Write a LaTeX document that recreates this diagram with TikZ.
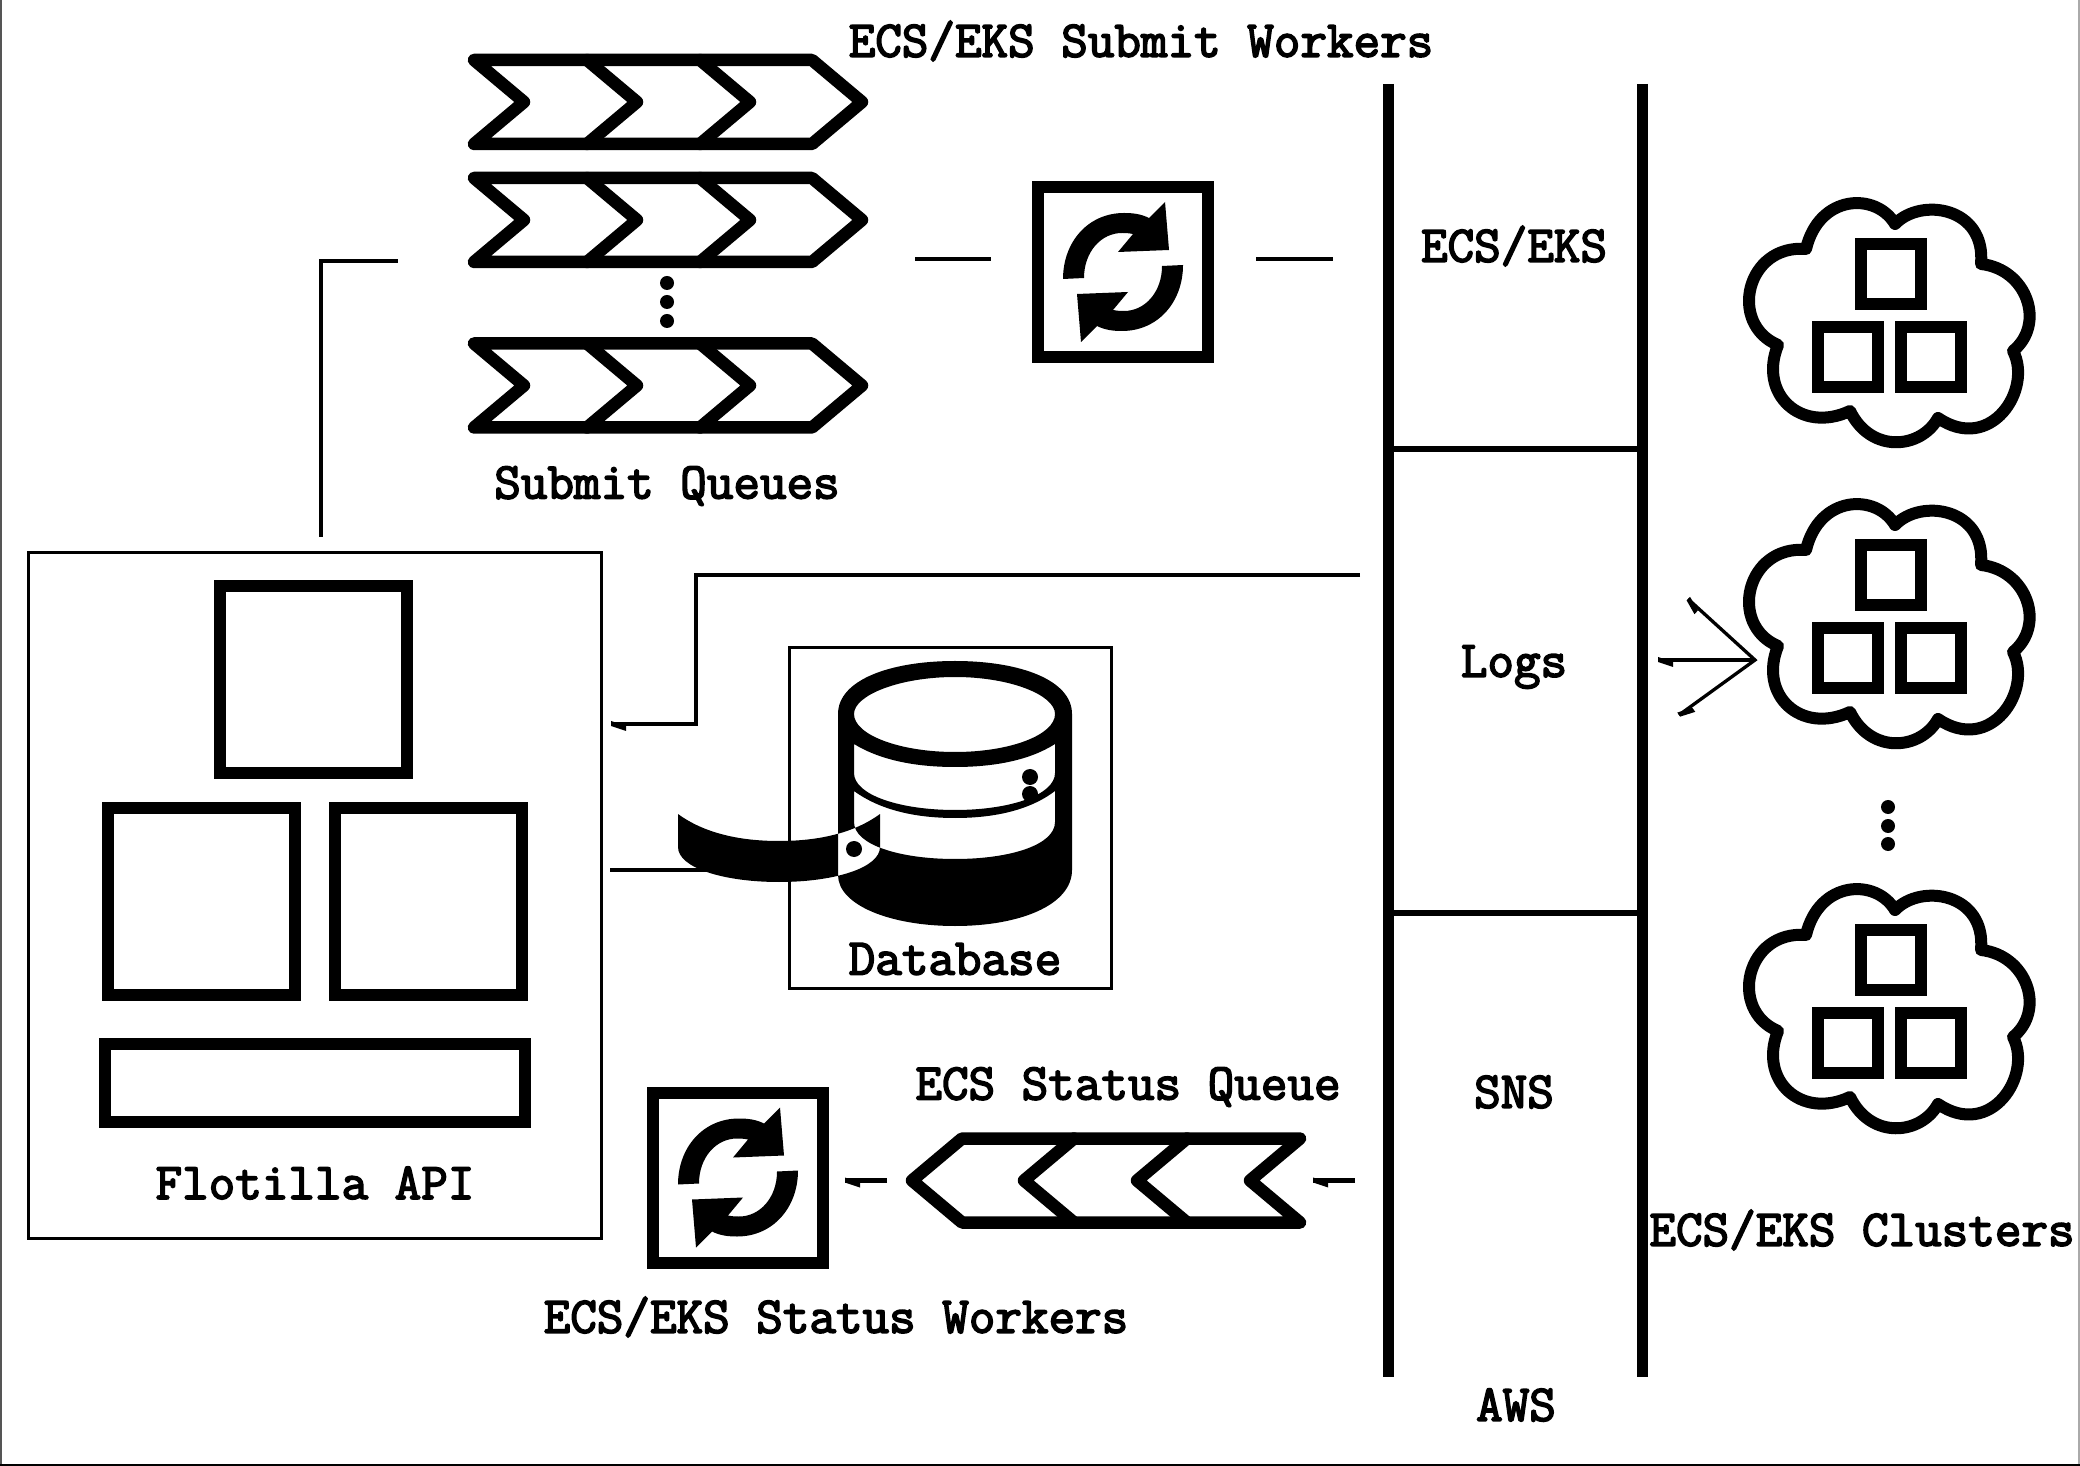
\documentclass[tikz,border=0pt]{standalone}
\usepackage{fontspec}
\usepackage{tikz}
\usetikzlibrary{calc}
\newfontfamily\labelfont[FakeBold=3.2]{Latin Modern Mono}
\definecolor{noir}{HTML}{000000}
\definecolor{gris}{HTML}{555555}
\definecolor{grisclair}{HTML}{AAAAAA}
\tikzset{
  label/.style={font=\fontsize{14.68}{16}\selectfont\labelfont,inner sep=0pt,text=noir},
  frame/.style={draw=noir,line width=0.3mm,inner sep=0pt,fill=none},
  thickbox/.style={draw=noir,line width=1.2mm,inner sep=0pt},
  syncbox/.style={draw=noir,line width=1.2mm,inner sep=0pt,minimum width=17mm,minimum height=17mm},
  squarebox/.style={draw=noir,line width=1.2mm,inner sep=0pt,minimum width=6mm,minimum height=6mm},
  wire/.style={draw=noir,line width=0.45mm},
  thinwire/.style={draw=noir,line width=0.33mm},
  queueline/.style={draw=noir,line width=1.25mm,line join=round,line cap=round},
  awsbar/.style={draw=noir,line width=1.1mm},
  awsrule/.style={draw=noir,line width=0.65mm},
  queue/.pic={
    \draw[queueline] (0,-42) -- (338,-42) -- (388,0) -- (338,42) -- (0,42) -- (50,0) -- cycle;
    \foreach \d in {113,226} {
      \draw[queueline] (\d,-42) -- (\d+50,0) -- (\d,42);
    }
  },
  syncarrow/.pic={
    \fill[noir] (-60,7) .. controls (-60,-30) and (-35,-59) .. (1,-59)
      .. controls (10,-59) and (18,-58) .. (26,-54) -- (42,-70) -- (46,-22) -- (-5,-20) -- (10,-38)
      .. controls (5,-39) and (2,-39) .. (-1,-39) .. controls (-22,-39) and (-39,-20) .. (-39,6) -- cycle;
  },
  syncicon/.pic={
    \pic at (0,0) {syncarrow};
    \pic[rotate=180] at (0,0) {syncarrow};
  },
  cluster/.pic={
    \draw[draw=noir,line width=1.2mm,line join=round] (-85,-70)
      .. controls (-72,-125) and (-15,-127) .. (4,-95)
      .. controls (30,-122) and (95,-112) .. (90,-55)
      .. controls (136,-50) and (155,5) .. (122,32)
      .. controls (142,70) and (100,135) .. (47,99)
      .. controls (30,130) and (-20,135) .. (-41,92)
      .. controls (-90,115) and (-133,75) .. (-113,26)
      .. controls (-163,5) and (-145,-75) .. (-85,-70) -- cycle;
    \node[squarebox] (-top) at (0,-45) {};
    \node[squarebox] (-left) at (-43,38) {};
    \node[squarebox] (-right) at (40,38) {};
  },
  stubtip/.pic={
    \fill[noir] (0,-3) -- (0,2) -- (15,7) -- (15,2) -- cycle;
  },
}
\begin{document}
\begin{tikzpicture}[x=0.1mm,y=-0.1mm]
  \useasboundingbox (0,0) rectangle (2080,1466);
  \draw[gris,line width=0.25mm] (1.2,0) -- (1.2,1466);
  \draw[grisclair,line width=0.15mm] (2079.2,0) -- (2079.2,1466);
  \draw[noir,line width=0.15mm] (0,1465.2) -- (2080,1465.2);

  % submit queues
  \foreach \y in {102,220,385.5} {
    \pic at (474,\y) {queue};
  }
  \foreach \y in {283,302,321} {
    \fill[noir] (667,\y) circle (7);
  }
  \node[label] (submitWorkersText) at (1141,41) {ECS/EKS Submit Workers};
  \node[label] (submitQueuesText) at (667,486) {Submit Queues};

  % workers
  \node[syncbox] (submitWorker) at (1123,272) {};
  \pic at (submitWorker.center) {syncicon};
  \node[syncbox] (statusWorker) at (738,1177.5) {};
  \pic at (statusWorker.center) {syncicon};
  \node[label] (statusWorkersText) at (836,1317) {ECS/EKS Status Workers};

  % status queue
  \pic[xscale=-1] at (1300,1180.5) {queue};
  \node[label] (statusQueueText) at (1128,1087) {ECS Status Queue};

  % aws column
  \coordinate (barLeftTop) at (1388,84);
  \coordinate (barLeftEnd) at (1388,1377);
  \coordinate (barRightTop) at (1642,84);
  \coordinate (barRightEnd) at (1642,1377);
  \draw[awsbar] (barLeftTop) -- (barLeftEnd);
  \draw[awsbar] (barRightTop) -- (barRightEnd);
  \draw[awsrule] (1388,449) -- (1642,449);
  \draw[awsrule] (1388,913) -- (1642,913);
  \node[label] (ecsText) at (1514,246) {ECS/EKS};
  \node[label] (logsText) at (1514,667) {Logs};
  \node[label] (snsText) at (1514,1092) {SNS};
  \node[label] (awsText) at (1516,1405) {AWS};

  % clusters
  \pic (clusterA) at (1891,319) {cluster};
  \pic (clusterB) at (1891,620) {cluster};
  \pic (clusterC) at (1891,1005) {cluster};
  \foreach \y in {807,826,844} {
    \fill[noir] (1888,\y) circle (7);
  }
  \node[label] (clustersText) at (1862,1230) {ECS/EKS Clusters};

  % flotilla api
  \node[frame,minimum width=57.3mm,minimum height=68.5mm] (api) at (314.5,895.5) {};
  \node[thickbox,minimum width=18.7mm,minimum height=18.7mm] (apiTop) at (313,680) {};
  \node[thickbox,minimum width=18.7mm,minimum height=18.7mm] (apiLeft) at (201.5,901) {};
  \node[thickbox,minimum width=18.7mm,minimum height=18.7mm] (apiRight) at (428.5,901) {};
  \node[thickbox,minimum width=42mm,minimum height=7.8mm] (apiWide) at (314.5,1082.5) {};
  \node[label] (apiText) at (315,1183) {Flotilla API};

  % database
  \node[frame,minimum width=32.2mm,minimum height=34mm] (dbFrame) at (950,818) {};
  \fill[noir,even odd rule]
    (838,714) .. controls (838,680) and (890,661) .. (955,661) .. controls (1020,661) and (1072,680) .. (1072,714)
      -- (1072,870) .. controls (1072,905) and (1020,926) .. (955,926) .. controls (890,926) and (838,905) .. (838,875) -- cycle
    (854,714) .. controls (854,695) and (900,677) .. (955,677) .. controls (1010,677) and (1055,695) .. (1055,714)
      .. controls (1055,735) and (1010,752) .. (955,752) .. controls (900,752) and (854,735) .. (854,714) -- cycle
    (854,744) .. controls (880,760) and (915,767) .. (955,767) .. controls (995,767) and (1030,760) .. (1055,744)
      -- (1055,773) .. controls (1055,795) and (1010,810) .. (955,810) .. controls (900,810) and (854,795) .. (854,773) -- cycle
    (854,791) .. controls (880,810) and (915,818) .. (955,818) .. controls (995,818) and (1030,810) .. (1055,791)
      -- (1055,822) .. controls (1055,845) and (1010,859) .. (955,859) .. controls (900,859) and (854,845) .. (854,822) -- cycle
    (678,814) .. controls (704,833) and (739,841) .. (779,841) .. controls (819,841) and (854,833) .. (880,814)
      -- (880,847) .. controls (880,868) and (834,882) .. (779,882) .. controls (724,882) and (678,868) .. (678,847) -- cycle;
  \fill[noir] (1030,777) circle (8);
  \fill[noir] (1030,794) circle (8);
  \fill[noir] (854,849) circle (8);
  \node[label] (dbText) at (955,959) {Database};

  % connectors
  \coordinate (apiOut) at (321,537);
  \coordinate (submitIn) at (398,261);
  \coordinate (submitOut) at (915,259);
  \coordinate (workerIn) at (991,259);
  \coordinate (workerOut) at (1256,259);
  \coordinate (ecsIn) at (1333,259);
  \coordinate (logsOut) at (1360,575);
  \coordinate (logsBend) at (696,724);
  \coordinate (logsApi) at (611,724);
  \coordinate (dbApi) at (610,870);
  \coordinate (dbIn) at (710,870);
  \coordinate (snsOut) at (1355,1180.5);
  \coordinate (snsEnd) at (1313,1180.5);
  \coordinate (statusOut) at (887,1180.5);
  \coordinate (statusEnd) at (845,1180.5);
  \coordinate (arrowStart) at (1658,660);
  \coordinate (arrowEnd) at (1755,660);
  \coordinate (barbUp) at (1688,599);
  \coordinate (barbDown) at (1679,715);
  \draw[wire] (apiOut) |- (submitIn);
  \draw[wire] (submitOut) -- (workerIn);
  \draw[wire] (workerOut) -- (ecsIn);
  \draw[wire] (logsOut) -| (logsBend) -- (logsApi);
  \draw[wire] (dbApi) -- (dbIn);
  \draw[wire] (snsOut) -- (snsEnd);
  \draw[wire] (statusOut) -- (statusEnd);
  \draw[thinwire] (arrowStart) -- (arrowEnd);
  \draw[thinwire] (barbUp) -- (arrowEnd) -- (barbDown);
  \pic at (logsApi) {stubtip};
  \pic at (snsEnd) {stubtip};
  \pic at (statusEnd) {stubtip};
  \pic at (arrowStart) {stubtip};
  \pic[rotate=-42] at (barbUp) {stubtip};
  \pic[rotate=36] at (barbDown) {stubtip};
\end{tikzpicture}
\end{document}
